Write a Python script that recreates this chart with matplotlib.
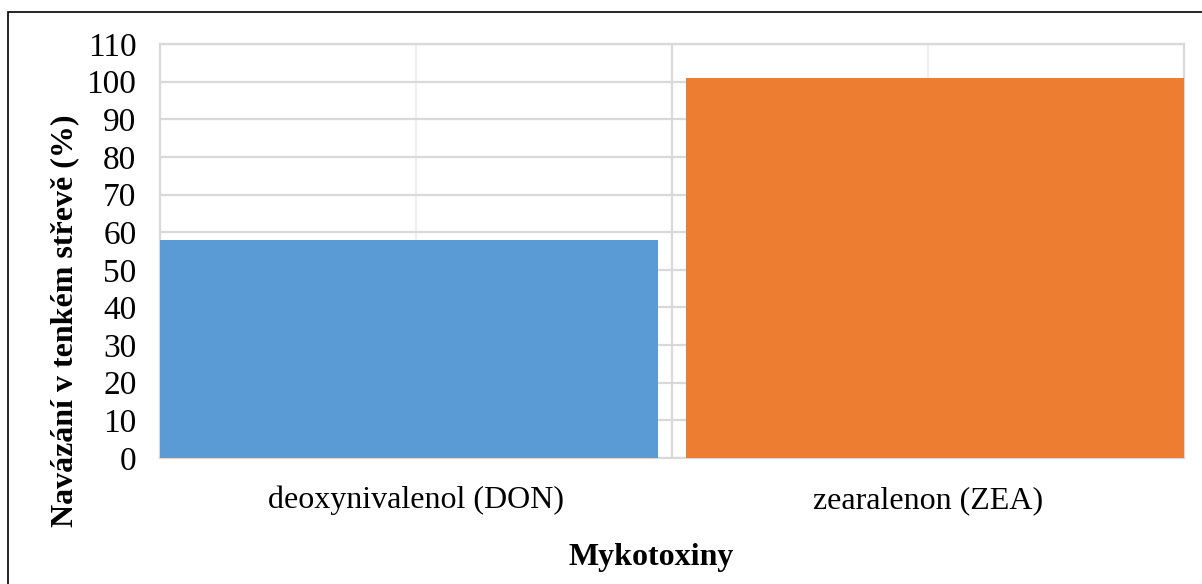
import matplotlib.pyplot as plt
from matplotlib.patches import Rectangle

# data
kategorie = ['deoxynivalenol (DON)', 'zearalenon (ZEA)']
navazani = [58, 101]
barvy = ['#5b9bd5', '#ed7d31']

plt.rcParams['font.family'] = ['Liberation Serif', 'DejaVu Serif']

W, H = 1202, 584
fig = plt.figure(figsize=(W / 100, H / 100), dpi=100)
ax = fig.add_axes([160 / W, 1 - 458 / H, (1184 - 160) / W, (458 - 44) / H])

# sloupce jsou v Excelu posunute k okrajum
sirka = 0.973
ax.bar(-0.5, navazani[0], width=sirka, align='edge', color=barvy[0], zorder=3)
ax.bar(1.5, navazani[1], width=-sirka, align='edge', color=barvy[1], zorder=3)

ax.set_xlim(-0.5, 1.5)
ax.set_ylim(0, 110)
ax.set_yticks(range(0, 111, 10))
ax.set_xticks([0, 1])
ax.set_xticklabels(kategorie, fontsize=23)
ax.tick_params(axis='y', labelsize=24, length=0, pad=17)
ax.tick_params(axis='x', length=0, pad=20)

ax.yaxis.grid(True, color='#d9d9d9', linewidth=1.6, zorder=0)
for x in [0, 1]:
    ax.axvline(x, color='#f0f0f0', linewidth=1.6, zorder=0)
ax.axvline(0.5, color='#d9d9d9', linewidth=1.6, zorder=0)

for s in ax.spines.values():
    s.set_color('#d9d9d9')
    s.set_linewidth(1.6)

# popisky os umistene rucne podle predlohy
fig.text(65 / W, 1 - 321 / H, 'Navázání v tenkém střevě (%)', rotation=90,
         ha='center', va='center', fontsize=23, fontweight='bold')
fig.text(651 / W, 1 - 557 / H, 'Mykotoxiny', ha='center', va='center',
         fontsize=23, fontweight='bold')

fig.patches.append(Rectangle((8 / W, -0.1), 1.2, 1 - 12 / H + 0.1, transform=fig.transFigure,
                             fill=False, edgecolor='black', linewidth=1.2))

fig.savefig('out.png', dpi=100)
